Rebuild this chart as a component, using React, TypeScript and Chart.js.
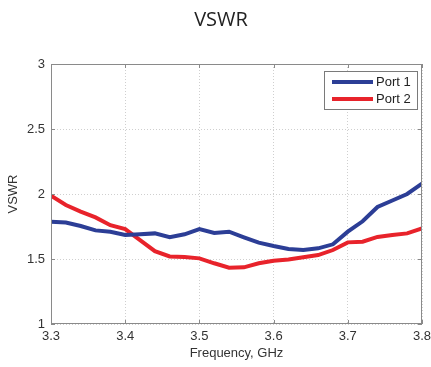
import React, { useEffect, useRef } from "react";
import { Chart, registerables } from "chart.js";

Chart.register(...registerables);

// Frequency sweep, GHz
const frequencies = [
  3.3, 3.32, 3.34, 3.36, 3.38, 3.4, 3.42, 3.44, 3.46, 3.48, 3.5, 3.52, 3.54,
  3.56, 3.58, 3.6, 3.62, 3.64, 3.66, 3.68, 3.7, 3.72, 3.74, 3.76, 3.78, 3.8,
];

// Measured VSWR per port
const port1 = [
  1.787, 1.78, 1.754, 1.72, 1.71, 1.685, 1.69, 1.697, 1.667, 1.69, 1.73, 1.7,
  1.71, 1.667, 1.626, 1.6, 1.577, 1.569, 1.582, 1.613, 1.71, 1.79, 1.9, 1.95,
  2.0, 2.08,
];
const port2 = [
  1.987, 1.915, 1.864, 1.82, 1.76, 1.73, 1.646, 1.56, 1.52, 1.515, 1.505,
  1.467, 1.433, 1.436, 1.467, 1.487, 1.497, 1.513, 1.53, 1.569, 1.628, 1.633,
  1.67, 1.685, 1.697, 1.736,
];

const xTicks = [3.3, 3.4, 3.5, 3.6, 3.7, 3.8];
const yTicks = [1, 1.5, 2, 2.5, 3];
const chartTitle = "VSWR";

const BLUE = "#2c3e96";
const RED = "#e8232b";
const TEXT = "#333333";
const FONT = "Arial, 'Liberation Sans', sans-serif";

// Title, full plot frame, inward tick marks and the in-plot legend
const framePlugin = {
  id: "frame",
  afterDraw(chart: any) {
    const { ctx, chartArea: a, scales } = chart;
    const x = scales.x;
    const y = scales.y;
    ctx.save();

    ctx.fillStyle = "#222222";
    ctx.font = "20px 'Open Sans', sans-serif";
    ctx.textAlign = "center";
    ctx.textBaseline = "middle";
    ctx.fillText(chartTitle, 221, 20);

    ctx.strokeStyle = "#8a8a8a";
    ctx.lineWidth = 1;
    ctx.strokeRect(a.left + 0.5, a.top + 0.5, a.right - a.left - 1, a.bottom - a.top - 1);
    ctx.beginPath();
    for (const t of xTicks) {
      const px = Math.round(x.getPixelForValue(t)) + 0.5;
      ctx.moveTo(px, a.top);
      ctx.lineTo(px, a.top + 4);
      ctx.moveTo(px, a.bottom);
      ctx.lineTo(px, a.bottom - 4);
    }
    for (const t of yTicks) {
      const py = Math.round(y.getPixelForValue(t)) + 0.5;
      ctx.moveTo(a.left, py);
      ctx.lineTo(a.left + 4, py);
      ctx.moveTo(a.right, py);
      ctx.lineTo(a.right - 4, py);
    }
    ctx.stroke();

    // legend box
    const bx = a.right - 98;
    const by = a.top + 7;
    const bw = 94;
    const bh = 39;
    ctx.fillStyle = "#ffffff";
    ctx.fillRect(bx, by, bw, bh);
    ctx.strokeStyle = "#7a7a7a";
    ctx.strokeRect(bx + 0.5, by + 0.5, bw - 1, bh - 1);
    ctx.font = `13px ${FONT}`;
    ctx.textBaseline = "middle";
    ctx.textAlign = "left";
    chart.data.datasets.forEach((ds: any, i: number) => {
      const ly = by + 11 + i * 17;
      ctx.strokeStyle = ds.borderColor;
      ctx.lineWidth = 4;
      ctx.beginPath();
      ctx.moveTo(bx + 8, ly);
      ctx.lineTo(bx + 49, ly);
      ctx.stroke();
      ctx.fillStyle = "#222222";
      ctx.fillText(ds.label, bx + 52, ly + 0.5);
    });
    ctx.restore();
  },
};

export default function App() {
  const canvasRef = useRef<HTMLCanvasElement>(null);

  useEffect(() => {
    const canvas = canvasRef.current;
    if (!canvas) return;
    const chart = new Chart(canvas, {
      type: "line",
      data: {
        datasets: [
          {
            label: "Port 1",
            data: frequencies.map((f, i) => ({ x: f, y: port1[i] })),
            borderColor: BLUE,
            borderWidth: 4,
            pointRadius: 0,
            tension: 0,
          },
          {
            label: "Port 2",
            data: frequencies.map((f, i) => ({ x: f, y: port2[i] })),
            borderColor: RED,
            borderWidth: 4,
            pointRadius: 0,
            tension: 0,
          },
        ],
      },
      options: {
        responsive: false,
        animation: false,
        layout: { padding: { left: 0, right: 9, top: 64, bottom: 0 } },
        plugins: {
          legend: { display: false },
          tooltip: { enabled: false },
          title: { display: false },
        },
        scales: {
          x: {
            type: "linear",
            min: 3.3,
            max: 3.8,
            afterBuildTicks: (s: any) => {
              s.ticks = xTicks.map((v) => ({ value: v }));
            },
            afterFit: (s: any) => {
              s.height = 43;
              s.paddingLeft = 0;
              s.paddingRight = 0;
            },
            grid: {
              color: "#cfcfcf",
              lineWidth: 1,
              drawTicks: false,
            },
            border: { display: false, dash: [1, 2] },
            ticks: {
              padding: 5,
              color: TEXT,
              font: { family: FONT, size: 13 },
              maxRotation: 0,
              callback: (v: any) => Number(v).toFixed(1),
            },
            title: {
              display: true,
              text: "Frequency, GHz",
              color: TEXT,
              font: { family: FONT, size: 13 },
              padding: { top: 0, bottom: 6 },
            },
          },
          y: {
            min: 1,
            max: 3,
            afterBuildTicks: (s: any) => {
              s.ticks = yTicks.map((v) => ({ value: v }));
            },
            afterFit: (s: any) => {
              s.width = 51;
              s.paddingTop = 0;
              s.paddingBottom = 0;
            },
            grid: {
              color: "#cfcfcf",
              lineWidth: 1,
              drawTicks: false,
            },
            border: { display: false, dash: [1, 2] },
            ticks: {
              padding: 6,
              color: TEXT,
              font: { family: FONT, size: 13 },
              callback: (v: any) => String(v),
            },
            title: {
              display: true,
              text: "VSWR",
              color: TEXT,
              font: { family: FONT, size: 13 },
              padding: { top: 6, bottom: 0 },
            },
          },
        },
      },
      plugins: [framePlugin],
    } as any);
    return () => chart.destroy();
  }, []);

  return (
    <div style={{ position: "fixed", left: 0, top: 0, width: 431, height: 367, background: "#fff" }}>
      <canvas ref={canvasRef} width={431} height={367} style={{ display: "block" }} />
    </div>
  );
}
